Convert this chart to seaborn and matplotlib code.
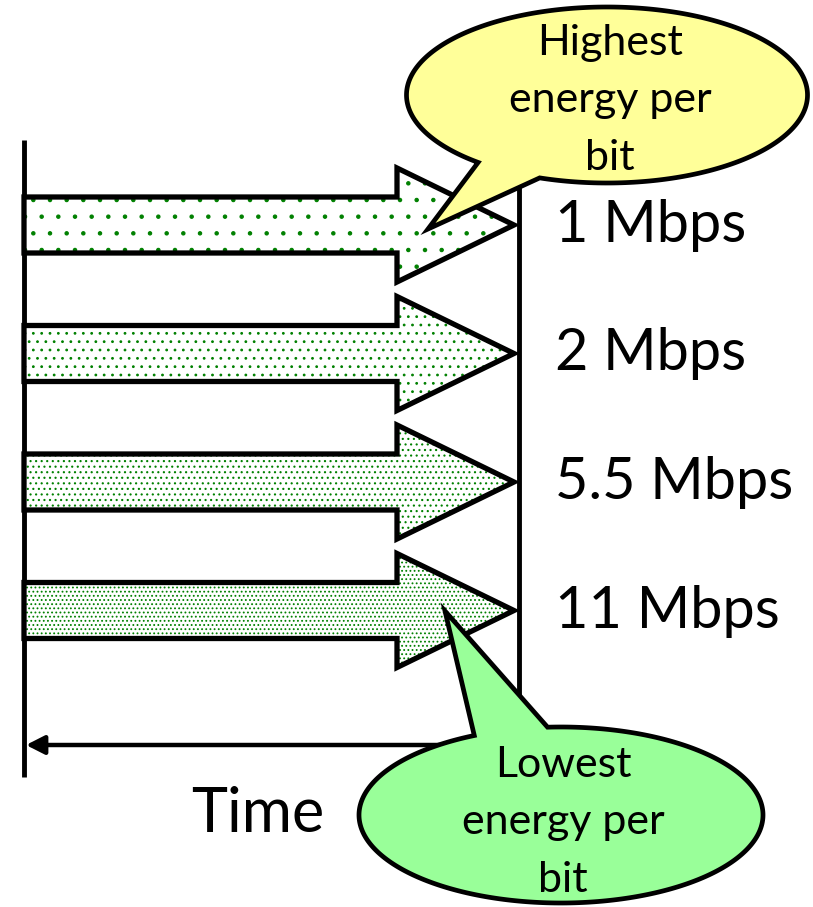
import numpy as np
import matplotlib
matplotlib.use("Agg")
import matplotlib.pyplot as plt
from matplotlib.patches import Polygon
import seaborn as sns

# ---- data ----
rates = ["1 Mbps", "2 Mbps", "5.5 Mbps", "11 Mbps"]
dot_density = [1, 2, 3, 4]          # stipple density of each arrow (more dots = faster rate)
callout_high = "Highest\nenergy per\nbit"
callout_low = "Lowest\nenergy per\nbit"
axis_label = "Time"

sns.set_theme(style="white")
plt.rcParams["font.family"] = ["Lato", "DejaVu Sans"]
plt.rcParams["hatch.linewidth"] = 0.8

W, H = 813, 907
fig = plt.figure(figsize=(W / 100, H / 100), dpi=100)
ax = fig.add_axes([0, 0, 1, 1])
ax.set_xlim(0, W)
ax.set_ylim(H, 0)
ax.set_axis_off()

LW = 3.8
x_left, x_right = 24, 519
head_x, tip_x = 397, 514
body_h, head_h = 28, 57
y0, dy = 225, 128.5

# vertical time boundaries
ax.plot([x_left, x_left], [140, 777], color="black", lw=3.5, solid_capstyle="butt", zorder=1)
ax.plot([x_right, x_right], [150, 745], color="black", lw=3.5, solid_capstyle="butt", zorder=1)

# rate arrows
for i, (lab, dens) in enumerate(zip(rates, dot_density)):
    yc = y0 + i * dy
    verts = [(x_left, yc - body_h), (head_x, yc - body_h), (head_x, yc - head_h),
             (tip_x, yc), (head_x, yc + head_h), (head_x, yc + body_h), (x_left, yc + body_h)]
    ax.add_patch(Polygon(verts, closed=True, facecolor="white", edgecolor="#008000",
                         hatch="." * dens, lw=0, zorder=2))
    ax.add_patch(Polygon(verts, closed=True, fill=False, edgecolor="black", lw=LW,
                         joinstyle="miter", zorder=3))
    ax.text(555, yc + 17, lab, fontsize=41.5, ha="left", va="baseline", color="black", zorder=6)

# time arrow
ax.annotate("", xy=(26, 745), xytext=(x_right, 745),
            arrowprops=dict(arrowstyle="-|>,head_length=0.55,head_width=0.28",
                            mutation_scale=20, lw=3.2, color="black",
                            shrinkA=0, shrinkB=0), zorder=2)
ax.text(258, 832, axis_label, fontsize=44, ha="center", va="baseline", color="black")


def callout(cx, cy, w, h, b1, b2, tip, color, zorder=5):
    a, b = w / 2, h / 2
    t1 = np.arctan2((b1[1] - cy) / b, (b1[0] - cx) / a)
    t2 = np.arctan2((b2[1] - cy) / b, (b2[0] - cx) / a)
    d = (t2 - t1) % (2 * np.pi)
    if d < np.pi:
        ts = np.linspace(t1 + d, t1 + 2 * np.pi, 300)
    else:
        d2 = (t1 - t2) % (2 * np.pi)
        ts = np.linspace(t2 + d2, t2 + 2 * np.pi, 300)
    pts = np.column_stack([cx + a * np.cos(ts), cy + b * np.sin(ts)])
    pts = np.vstack([pts, [tip]])
    ax.add_patch(Polygon(pts, closed=True, facecolor=color, edgecolor="black", lw=3.4,
                         joinstyle="miter", zorder=zorder))


callout(607, 95, 401, 176, (477, 163), (538, 180), (428, 229), "#FFFF99")
ax.text(610, 170, callout_high, fontsize=31, ha="center", va="baseline",
        linespacing=1.63, color="black", zorder=7)

callout(561, 815, 404, 176, (477, 738), (548, 730), (445, 611), "#99FF99")
ax.text(563, 892, callout_low, fontsize=31, ha="center", va="baseline",
        linespacing=1.63, color="black", zorder=7)

fig.savefig("out.png", dpi=100)
